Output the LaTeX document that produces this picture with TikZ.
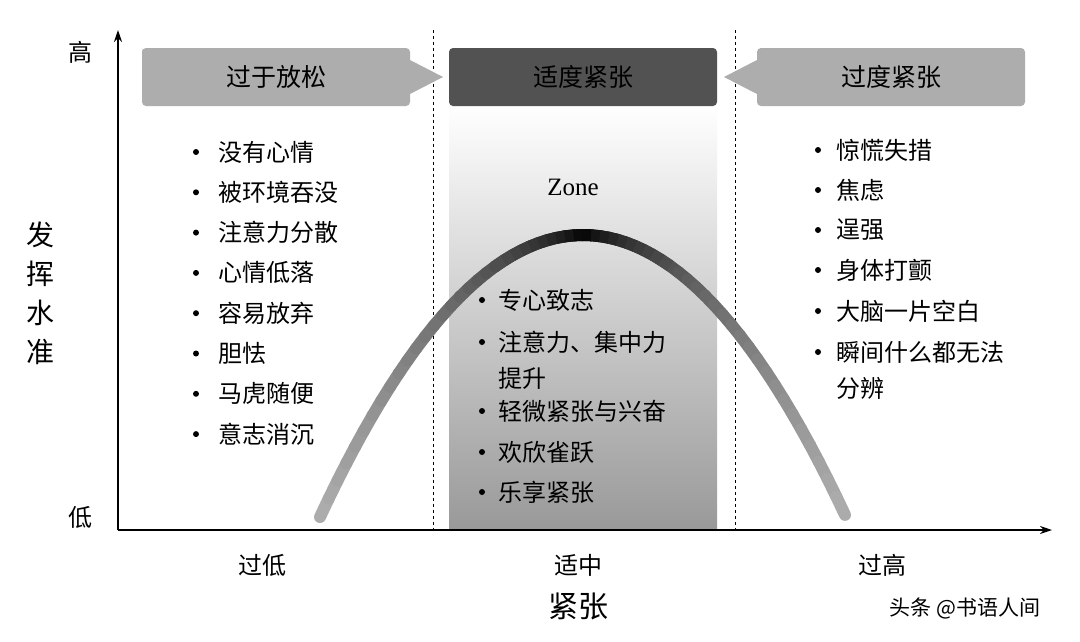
\documentclass[tikz,border=0pt]{standalone}
\usepackage{fontspec}
\usetikzlibrary{arrows.meta}
\setmainfont{Liberation Serif}
\newfontfamily\cjk{Noto Sans CJK SC}
\begin{document}
\begin{tikzpicture}[x=1pt,y=-1pt,
  lab/.style={font=\cjk\fontsize{24}{26}\selectfont, anchor=west, inner sep=0},
  bul/.style={circle, fill=black, inner sep=0, minimum size=6pt},
  ax/.style={font=\cjk\fontsize{24}{26}\selectfont, inner sep=0},
  topbox/.style={rounded corners=4pt, font=\cjk\fontsize{25}{27}\selectfont, minimum height=58pt, minimum width=268pt, inner sep=0}]
\useasboundingbox (0,0) rectangle (1080,641);
\fill[white] (0,0) rectangle (1080,641);
% shaded zone
\shade[top color=white, bottom color=black!40] (449,105) rectangle (717,530);
% dashed lines
\draw[dashed, line width=1pt] (433,30) -- (433,530);
\draw[dashed, line width=1pt] (735,30) -- (735,530);
% top arrows
\fill[black!32] (142,52) [rounded corners=4pt] -- (142,48) -- (410,48) [sharp corners] -- (410,60) -- (443,77) -- (410,94) [rounded corners=4pt] -- (410,106) -- (142,106) -- cycle;
\node[topbox] (lo) at (276,77) {过于放松};
\fill[black!32] (757,52) [rounded corners=4pt] -- (757,48) -- (1025,48) -- (1025,106) -- (757,106) [sharp corners] -- (757,94) -- (724,77) -- (757,60) -- cycle;
\node[topbox] (hi) at (891,77) {过度紧张};
\node[topbox, fill=black!68] (mid) at (583,77) {适度紧张};
% curve
\foreach \i in {0,...,59}{
  \pgfmathsetmacro{\xa}{320+\i*8.75}
  \pgfmathsetmacro{\xb}{320+(\i+1)*8.75}
  \pgfmathsetmacro{\ya}{235+282*((\xa-583)/263)^2}
  \pgfmathsetmacro{\yb}{235+282*((\xb-583)/263)^2}
  \pgfmathsetmacro{\p}{100-68*(abs((\xa+\xb)/2-583)/262)^0.7}
  \draw[line width=12pt, color=black!\p, line cap=round] (\xa,\ya) -- (\xb,\yb);
}
\foreach \i in {20,...,39}{
  \pgfmathsetmacro{\xa}{320+\i*8.75}
  \pgfmathsetmacro{\xb}{320+(\i+1)*8.75}
  \pgfmathsetmacro{\ya}{235+282*((\xa-583)/263)^2}
  \pgfmathsetmacro{\yb}{235+282*((\xb-583)/263)^2}
  \pgfmathsetmacro{\p}{100-68*(abs((\xa+\xb)/2-583)/262)^0.7}
  \draw[line width=12pt, color=black!\p] (\xa,\ya) -- (\xb,\yb);
}
% axes
\coordinate (o) at (118,530);
\coordinate (ytop) at (118,30);
\coordinate (xend) at (1052,530);
\draw[line width=1.4pt, -{Stealth[length=12pt,width=8pt]}] (o) -- (ytop);
\draw[line width=1.4pt, -{Stealth[length=12pt,width=8pt]}] (o) -- (xend);
% axis labels
\node[ax] (h) at (80,52) {高};
\node[ax] (l) at (80,517) {低};
\node[ax, font=\cjk\fontsize{28}{39}\selectfont, align=center] (perf) at (40,293) {发\\挥\\水\\准};
\node[ax] (xl) at (262,565) {过低};
\node[ax] (xm) at (578,565) {适中};
\node[ax] (xh) at (882,565) {过高};
\node[ax, font=\cjk\fontsize{30}{32}\selectfont] (xt) at (578,606) {紧张};
\node[ax, font=\cjk\fontsize{21}{23}\selectfont] (wm) at (965,608) {头条 @书语人间};
\node[font=\fontsize{25}{27}\selectfont] (zone) at (573,187) {Zone};
% left list
\foreach \t [count=\k] in {没有心情,被环境吞没,注意力分散,心情低落,容易放弃,胆怯,马虎随便,意志消沉}{
  \pgfmathsetmacro{\yy}{152+(\k-1)*40.3}
  \node[bul] (lb\k) at (196,\yy) {};
  \node[lab] (lt\k) at (218,\yy) {\t};
}
% right list
\foreach \t/\yy [count=\k] in {惊慌失措/150,焦虑/190,逞强/230,身体打颤/270,大脑一片空白/311,瞬间什么都无法/352}{
  \node[bul] (rb\k) at (818,\yy) {};
  \node[lab] (rt\k) at (836,\yy) {\t};
}
\node[lab] (rt7) at (836,388) {分辨};
% center list
\foreach \t/\yy [count=\k] in {专心致志/300,注意力、集中力/342,轻微紧张与兴奋/411,欢欣雀跃/452,乐享紧张/492}{
  \node[bul] (cb\k) at (482,\yy) {};
  \node[lab] (ct\k) at (498,\yy) {\t};
}
\node[lab] (ct6) at (498,378) {提升};
\end{tikzpicture}
\end{document}
